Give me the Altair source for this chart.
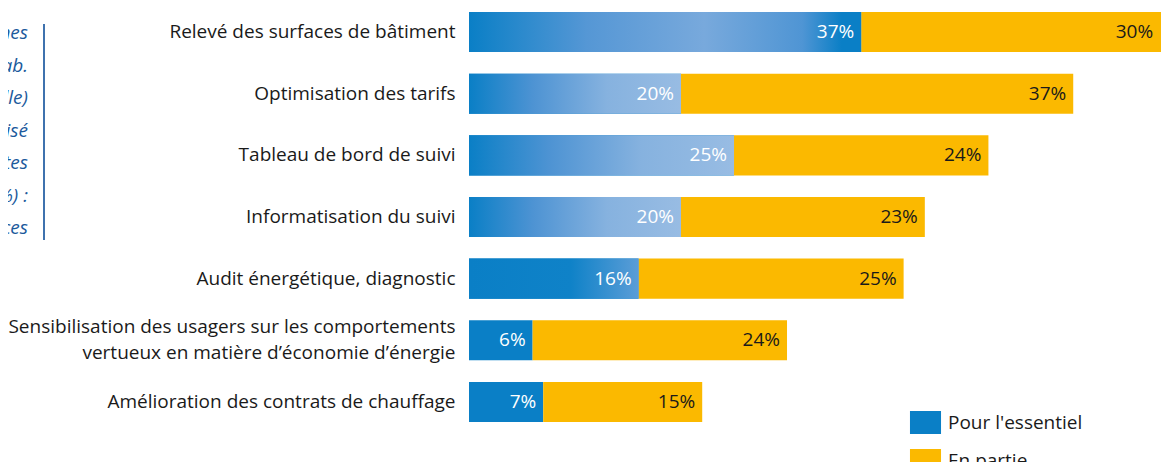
import altair as alt
import pandas as pd

categories = [
    "Relevé des surfaces de bâtiment",
    "Optimisation des tarifs",
    "Tableau de bord de suivi",
    "Informatisation du suivi",
    "Audit énergétique, diagnostic",
    "Sensibilisation des usagers sur les comportements|vertueux en matière d’économie d’énergie",
    "Amélioration des contrats de chauffage",
]
series = ["Pour l'essentiel", "En partie"]
essentiel = [37, 20, 25, 20, 16, 6, 7]
partie = [30, 37, 24, 23, 25, 24, 15]
note_lines = [
    "Parmi les communes",
    "(en % des hab.",
    "de la strate de taille)",
    "ayant déjà réalisé",
    "les actions suivantes",
    "(ensemble = 100 %) :",
    "les pratiques efficaces",
]

BLUE = "#0a7fc6"
YELLOW = "#fbb900"
FONT = "Open Sans"
FS = 19

rows = []
for i, (cat, e, p) in enumerate(zip(categories, essentiel, partie)):
    rows.append({"cat": cat, "row": i, "series": series[0], "idx": 0, "value": e, "start": 0, "end": e})
    rows.append({"cat": cat, "row": i, "series": series[1], "idx": 1, "value": p, "start": e, "end": e + p})
df = pd.DataFrame(rows)
df["txt"] = df["value"].astype(str) + "%"

XMAX = 65.28
y_enc = alt.Y(
    "cat:N",
    sort=categories,
    title=None,
    scale=alt.Scale(paddingInner=0.35, paddingOuter=0.065),
    axis=alt.Axis(
        domain=False,
        ticks=False,
        labelPadding=14,
        labelFont=FONT,
        labelFontSize=FS,
        labelColor="#1a1a1a",
        labelLimit=470,
        labelLineHeight=26,
        labelExpr="split(datum.label, '|')",
        labelOffset={"condition": {"test": "indexof(datum.label, '|') >= 0", "value": -13}, "value": 0},
    ),
)
y_plain = alt.Y("cat:N", sort=categories)
x_scale = alt.Scale(domain=[0, XMAX], nice=False, zero=True)

base = alt.Chart(df)

bars = base.mark_bar(clip=True).encode(
    y=y_enc,
    x=alt.X("start:Q", scale=x_scale, axis=None),
    x2="end:Q",
    color=alt.Color(
        "series:N",
        sort=series,
        scale=alt.Scale(domain=series, range=[BLUE, YELLOW]),
        legend=alt.Legend(
            title=None,
            orient="none",
            legendX=445,
            legendY=403,
            symbolType="M-1.35,-1H1.35V1H-1.35Z",
            symbolSize=529,
            symbolStrokeWidth=0,
            symbolOpacity=1,
            labelFont=FONT,
            labelFontSize=FS,
            labelColor="#1a1a1a",
            labelOffset=11,
            rowPadding=15,
        ),
    ),
)


def grad(stops):
    return {
        "gradient": "linear", "x1": 0, "x2": 1, "y1": 0, "y2": 0,
        "stops": [{"offset": o, "color": c} for o, c in stops],
    }


shade_sets = [
    ("datum.idx == 0 && datum.row == 0",
     grad([(0, "#0a7fc6"), (0.3, "#5597d5"), (0.6, "#78a9dc"), (0.85, "#4f95d4"), (0.95, "#0a7fc6"), (1, "#0a7fc6")])),
    ("datum.idx == 0 && datum.row >= 1 && datum.row <= 3",
     grad([(0, "#0a7fc6"), (0.3, "#4d93d3"), (0.65, "#86b2df"), (1, "#98bce3")])),
    ("datum.idx == 0 && datum.row == 4",
     grad([(0, "#0a7fc6"), (0.6, "#0f82c8"), (1, "#5b9dd7")])),
]
overlays = [
    base.transform_filter(test).mark_bar(clip=True, color=g).encode(
        y=y_plain, x=alt.X("start:Q", scale=x_scale), x2="end:Q"
    )
    for test, g in shade_sets
]

labels = base.transform_calculate(
    pos="min(datum.end, 65.2)"
).mark_text(align="right", baseline="middle", dx=-7, font=FONT, fontSize=FS).encode(
    y=y_plain,
    x=alt.X("pos:Q", scale=x_scale),
    text="txt:N",
    color=alt.condition("datum.idx == 0", alt.value("white"), alt.value("#1a1a1a")),
)

note = alt.Chart(pd.DataFrame({"n": [0]})).mark_text(
    align="right", baseline="middle", font=FONT, fontSize=19, fontStyle="italic",
    lineHeight=32.5, color="#1b5a9c",
).encode(x=alt.value(-441), y=alt.value(25), text=alt.value(note_lines))

rule = alt.Chart(pd.DataFrame({"n": [0]})).mark_rule(color="#3f72ae", strokeWidth=2).encode(
    x=alt.value(-425), y=alt.value(16), y2=alt.value(232)
)

chart = alt.layer(bars, *overlays, labels, note, rule).properties(
    width=692,
    height=418,
    autosize=alt.AutoSizeParams(type="none"),
    padding={"left": 461, "right": 0, "top": 0, "bottom": 36},
    background="white",
).configure_view(stroke=None)

chart.save("out.html", embed_options={"renderer": "svg", "actions": False})
